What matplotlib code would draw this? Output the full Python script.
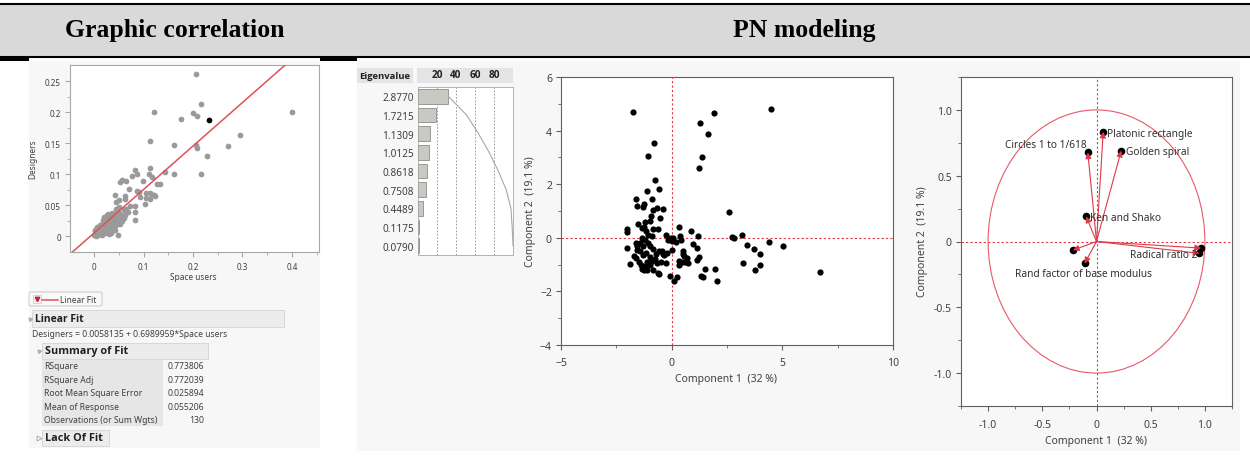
import numpy as np
import matplotlib
matplotlib.use('Agg')
import matplotlib.pyplot as plt
from matplotlib.patches import Rectangle, Circle, FancyBboxPatch

plt.rcParams['font.family'] = ['Noto Sans', 'DejaVu Sans']
BOLD = ['Open Sans', 'DejaVu Sans']

# --- left panel: designers vs space users ---
space_users = [0.207, 0.216, 0.122, 0.400, 0.200, 0.208, 0.176, 0.295, 0.112, 0.161,
               0.207, 0.208, 0.270, 0.229, 0.143, 0.162, 0.217, 0.113, 0.083, 0.086,
               0.077, 0.111, 0.116, 0.098, 0.127, 0.134, 0.057, 0.065, 0.053, 0.071,
               0.042, 0.062, 0.062, 0.050, 0.087, 0.091, 0.093, 0.105, 0.112, 0.114,
               0.122, 0.124, 0.105, 0.112, 0.102, 0.083, 0.073, 0.082, 0.065, 0.060,
               0.069, 0.063, 0.082, 0.048, 0.044, 0.051,
               0.046, 0.050, 0.055, 0.047, 0.052, 0.040, 0.043, 0.038, 0.035, 0.040,
               0.045, 0.033, 0.030, 0.028, 0.025, 0.027, 0.030, 0.032, 0.036, 0.022,
               0.020, 0.023, 0.025, 0.028, 0.018, 0.016, 0.015, 0.019, 0.021, 0.012,
               0.010, 0.009, 0.006, 0.004, 0.002, 0.000, 0.003, 0.008, 0.013, 0.016,
               0.024, 0.029, 0.034, 0.038, 0.042, 0.031, 0.026, 0.035, 0.048, 0.053,
               0.057, 0.060, 0.017, 0.011, 0.007, 0.001, 0.019, 0.037, 0.043, 0.022,
               0.014, 0.031, 0.027, 0.005, 0.044]
designers = [0.261, 0.214, 0.201, 0.201, 0.198, 0.194, 0.189, 0.163, 0.154, 0.148,
             0.147, 0.143, 0.146, 0.129, 0.104, 0.100, 0.100, 0.111, 0.107, 0.100,
             0.098, 0.100, 0.095, 0.090, 0.084, 0.084, 0.091, 0.090, 0.088, 0.077,
             0.067, 0.065, 0.060, 0.059, 0.073, 0.071, 0.063, 0.070, 0.070, 0.068,
             0.067, 0.065, 0.062, 0.060, 0.053, 0.040, 0.049, 0.049, 0.045, 0.042,
             0.040, 0.034, 0.027, 0.002, 0.055, 0.048,
             0.040, 0.038, 0.035, 0.030, 0.028, 0.035, 0.026, 0.030, 0.022, 0.020,
             0.018, 0.028, 0.033, 0.036, 0.030, 0.024, 0.020, 0.016, 0.012, 0.028,
             0.022, 0.018, 0.014, 0.010, 0.016, 0.020, 0.012, 0.009, 0.006, 0.010,
             0.014, 0.006, 0.009, 0.004, 0.008, 0.003, 0.000, 0.002, 0.004, 0.002,
             0.008, 0.004, 0.006, 0.014, 0.010, 0.025, 0.034, 0.032, 0.022, 0.020,
             0.025, 0.030, 0.026, 0.018, 0.013, 0.011, 0.031, 0.037, 0.032, 0.012,
             0.007, 0.011, 0.017, 0.016, 0.044]
selected_point = (0.233, 0.188)
fit_intercept = 0.0058135
fit_slope = 0.6989959
fit_summary = [('RSquare', '0.773806'), ('RSquare Adj', '0.772039'),
               ('Root Mean Square Error', '0.025894'), ('Mean of Response', '0.055206'),
               ('Observations (or Sum Wgts)', '130')]

# --- eigenvalues ---
eigenvalues = [2.8770, 1.7215, 1.1309, 1.0125, 0.8618, 0.7508, 0.4489, 0.1175, 0.0790]

# --- score plot ---
comp1 = [-1.76, -0.78, -1.05, -0.74, -0.56, -1.10, -1.62, -0.90, -1.55, -1.28,
         -1.23, -0.68, -0.83, -0.93, -0.39, -0.53, -1.00, -1.20, -1.25, -1.35,
         -1.50, -2.00, -2.00, -0.83, -0.63, -0.26, -0.05, 0.00, 0.08, 0.33,
         0.39, 0.87, 1.17, 2.60, 1.23, 1.35, 1.64, 1.28, 1.91, 4.50,
         2.73, 2.82, 3.18, 3.42, 3.72, 4.00, 4.41, 5.01, 3.23, 3.98,
         3.78, 6.70, 1.98, 2.07, 1.50, 1.32, 1.43, 1.25, 1.16, 0.98,
         1.13, 0.68, 0.57, 0.53, 0.45, 0.26, 0.10, -0.08, 0.02, 0.32,
         0.35, 0.60, 0.75, 0.50, 0.42, 0.20, -2.03, -1.88, -1.70, -1.60,
         -1.55, -1.55, -1.40, -1.25, -1.20, -1.12, -0.83, -0.55, -0.62, -0.27,
         -0.35, -0.22, -0.45, -0.55, -0.98, -1.05, -1.22, -1.35, -1.45, -1.30,
         -1.15, -1.00, -0.90, -0.75, -0.70, -1.28, -1.42, -1.05, -0.90, -1.15,
         -1.00, -1.35, -1.10, -0.50, -0.40, -0.15, -0.65, -1.60, -1.48, -0.85]
comp2 = [4.68, 3.52, 3.05, 2.15, 1.83, 1.73, 1.43, 1.44, 1.17, 1.15,
         1.27, 1.12, 1.02, 0.81, 1.06, 0.75, 0.62, 0.60, 0.40, 0.38,
         0.50, 0.32, 0.22, 0.32, 0.32, 0.10, 0.00, -0.12, -0.02, 0.40,
         0.05, 0.27, 0.05, 0.97, 2.62, 3.01, 3.86, 4.27, 4.66, 4.81,
         0.02, -0.02, 0.10, -0.25, -0.40, -0.60, -0.17, -0.31, -0.93, -1.00,
         -1.22, -1.27, -1.16, -1.62, -1.16, -1.41, -1.47, -0.72, -0.81, -0.22,
         -0.37, -0.75, -0.68, -0.50, -0.90, -1.47, -1.62, -1.43, -0.45, -1.00,
         -0.85, -0.90, -0.95, -0.60, -0.10, -0.15, -0.39, -0.97, -0.68, -0.75,
         -0.45, -0.30, -1.00, -1.20, -1.05, -0.90, -1.20, -1.35, -1.30, -0.95,
         -0.65, -0.55, -0.50, -0.50, -0.30, -0.20, -0.10, 0.00, -0.20, -0.30,
         -0.55, -0.70, -0.85, -0.80, -0.60, -0.65, -0.50, 0.10, 0.05, 0.25,
         -1.00, -1.15, -1.22, -0.90, -0.60, -0.10, -0.95, -0.20, -0.90, -0.40]

# --- loading plot ---
load_x = [0.062, -0.080, 0.228, -0.095, 0.965, 0.950, -0.218, -0.110]
load_y = [0.834, 0.677, 0.690, 0.190, -0.050, -0.090, -0.066, -0.167]
label_text = ['Platonic rectangle', 'Circles 1 to 1/618', 'Golden spiral',
              'Ken and Shako', 'Radical ratio 2', 'Rand factor of base modulus']
label_x = [0.100, -0.095, 0.268, -0.060, 0.935, -0.750]
label_y = [0.824, 0.735, 0.684, 0.183, -0.096, -0.243]
label_ha = ['left', 'right', 'left', 'left', 'right', 'left']

W, H = 1250, 464
RED = '#e03848'
TXT = '#404040'


def rect(x0, y0, x1, y1):
    return [x0 / W, 1 - y1 / H, (x1 - x0) / W, (y1 - y0) / H]


def style(ax, color, size, pad_x, pad_y):
    for s in ax.spines.values():
        s.set_color(color)
        s.set_linewidth(0.8)
    ax.tick_params(which='both', direction='out', color=color,
                   labelsize=size, labelcolor=TXT)
    ax.tick_params(which='major', length=3.5)
    ax.tick_params(which='minor', length=2.2)
    ax.tick_params(axis='x', which='major', pad=pad_x)
    ax.tick_params(axis='y', which='major', pad=pad_y)


fig = plt.figure(figsize=(12.5, 4.64), dpi=100)
fig.patch.set_facecolor('white')

bg = fig.add_axes([0, 0, 1, 1], zorder=-1)
bg.set_xlim(0, W)
bg.set_ylim(H, 0)
bg.axis('off')

# header band
bg.add_patch(Rectangle((0, 6), W, 51, fc='#d9d9d9', ec='none'))
bg.plot([0, W], [5, 5], color='black', lw=1.5)
bg.plot([0, W], [58, 58], color='black', lw=1.5)
bg.add_patch(Rectangle((0, 58), 29, 4, fc='black', ec='none'))
bg.add_patch(Rectangle((320, 58), 37, 4, fc='black', ec='none'))
bg.text(175, 30, 'Graphic correlation', family='Liberation Serif', weight='bold',
        fontsize=18.5, ha='center', va='center')
bg.text(804, 30, 'PN modeling', family='Liberation Serif', weight='bold',
        fontsize=18.5, ha='center', va='center')

# panel backgrounds
bg.add_patch(Rectangle((29, 62), 291, 387, fc='#f7f7f7', ec='none'))
bg.add_patch(Rectangle((357, 62), 883, 390, fc='#f7f7f7', ec='none'))

# ---------- left scatter ----------
ax1 = fig.add_axes(rect(70, 66, 319, 253))
ax1.set_facecolor('white')
ax1.scatter(space_users, designers, s=17, color='#9a9a9a', linewidths=0, zorder=2)
ax1.scatter([selected_point[0]], [selected_point[1]], s=17, color='black',
            linewidths=0, zorder=3)
fx = np.array([-0.06, 0.47])
ax1.plot(fx, fit_intercept + fit_slope * fx, color='#e05058', lw=1.1, zorder=4)
ax1.set_xlim(-0.049, 0.455)
ax1.set_ylim(-0.025, 0.276)
ax1.set_xticks([0, 0.1, 0.2, 0.3, 0.4])
ax1.set_xticklabels(['0', '0.1', '0.2', '0.3', '0.4'])
ax1.set_xticks([0.05, 0.15, 0.25, 0.35, 0.45], minor=True)
ax1.set_yticks([0, 0.05, 0.1, 0.15, 0.2, 0.25])
ax1.set_yticklabels(['0', '0.05', '0.1', '0.15', '0.2', '0.25'])
ax1.set_yticks([0.025, 0.075, 0.125, 0.175, 0.225], minor=True)
style(ax1, '#a8a8a8', 5.8, 3.5, 3)
bg.text(33, 159, 'Designers', rotation=90, fontsize=6, color=TXT,
        ha='center', va='center')
bg.text(193, 278, 'Space users', fontsize=6, color=TXT, ha='center', va='center')

# legend button and fit report
bg.add_patch(FancyBboxPatch((29, 293), 73, 14, boxstyle='round,pad=0,rounding_size=2',
                            fc='#f9f9f9', ec='#c0c0c0', lw=0.6))
bg.add_patch(Rectangle((32.5, 296), 8, 8, fc='#f4f4f4', ec='#c8c8c8', lw=0.5))
bg.plot([36.5], [300], marker='v', color='#d02030', markersize=3.2)
bg.plot([42, 58], [300.5, 300.5], color='#e05058', lw=1.1)
bg.text(60, 300.5, 'Linear Fit', fontsize=6, color=TXT, va='center')

bg.add_patch(Rectangle((32, 311), 252, 17, fc='#ececec', ec='#d4d4d4', lw=0.6))
bg.plot([29.5], [319.5], marker=(3, 0, 45), color='#b0b0b0', markersize=3)
bg.text(35, 319.5, 'Linear Fit', family=BOLD, fontsize=7.5, weight='bold',
        color='#202020', va='center')
bg.text(32, 335, 'Designers = %.7f + %.7f*Space users' % (fit_intercept, fit_slope),
        fontsize=6.2, color=TXT, va='center')

bg.add_patch(Rectangle((42, 344), 166, 16, fc='#ececec', ec='#d4d4d4', lw=0.6))
bg.plot([38.5], [352], marker=(3, 0, 45), color='#b0b0b0', markersize=3)
bg.text(45, 351.5, 'Summary of Fit', family=BOLD, fontsize=7.8, weight='bold',
        color='#202020', va='center')

bg.add_patch(Rectangle((42, 361), 121, 66, fc='#e6e6e6', ec='none'))
for i, (name, val) in enumerate(fit_summary):
    yy = 367 + i * 13.4
    bg.text(44, yy, name, fontsize=6.2, color=TXT, va='center')
    bg.text(204, yy, val, fontsize=6.2, color=TXT, va='center', ha='right')

bg.add_patch(Rectangle((42, 431), 67, 16, fc='#ececec', ec='#d4d4d4', lw=0.6))
bg.plot([38.5], [438.5], marker='>', mfc='none', mec='#a0a0a0', markersize=3.5, mew=0.6)
bg.text(45, 438.5, 'Lack Of Fit', family=BOLD, fontsize=7.8, weight='bold',
        color='#202020', va='center')

# ---------- eigenvalue bars ----------
eig = np.array(eigenvalues)
pct = eig / eig.sum() * 100
cum = np.cumsum(pct)
rows = np.arange(len(eig))

bg.add_patch(Rectangle((357, 69), 56, 15, fc='#e4e4e4', ec='none'))
bg.add_patch(Rectangle((417, 69), 96, 15, fc='#e4e4e4', ec='none'))
bg.text(359, 76.5, 'Eigenvalue', family=BOLD, fontsize=6.8, weight='bold',
        color='#202020', va='center')

ax2 = fig.add_axes(rect(418, 88, 513, 256))
ax2.set_facecolor('white')
ax2.barh(rows, pct, height=0.8, color='#c9c9c3', edgecolor='#8c8c8c', lw=0.6, zorder=2)
ax2.plot(cum, rows, color='#a8a8a8', lw=0.8, zorder=3)
ax2.set_xlim(0, 100)
ax2.set_ylim(8.5, -0.5)
ax2.xaxis.tick_top()
ax2.set_xticks([20, 40, 60, 80])
ax2.set_yticks(rows)
ax2.set_yticklabels(['%.4f' % e for e in eigenvalues])
ax2.grid(axis='x', linestyle=(0, (2, 2)), color='#8a8a8a', lw=0.6, zorder=1)
for s in ax2.spines.values():
    s.set_color('#a8a8a8')
    s.set_linewidth(0.6)
ax2.tick_params(axis='x', length=0, pad=5.2, labelsize=7.2, labelcolor='#202020')
ax2.tick_params(axis='y', length=0, pad=3, labelsize=7.2, labelcolor=TXT)
for lab in ax2.get_xticklabels():
    lab.set_fontweight('bold')
    lab.set_family(BOLD)

# ---------- score plot ----------
ax3 = fig.add_axes(rect(561, 78, 893, 346))
ax3.set_facecolor('white')
ax3.axhline(0, color=RED, lw=0.8, linestyle=(0, (2, 2)), zorder=1)
ax3.axvline(0, color=RED, lw=0.8, linestyle=(0, (2, 2)), zorder=1)
ax3.scatter(comp1, comp2, s=20, color='black', linewidths=0, zorder=2)
ax3.set_xlim(-5, 10)
ax3.set_ylim(-4, 6)
ax3.set_xticks([-5, 0, 5, 10])
ax3.set_xticks([-2.5, 2.5, 7.5], minor=True)
ax3.set_yticks([-4, -2, 0, 2, 4, 6])
ax3.set_yticks([-3, -1, 1, 3, 5], minor=True)
style(ax3, '#606060', 7.5, 5.5, 3)
bg.text(726, 380, 'Component 1  (32 %)', fontsize=7.5, color=TXT, ha='center', va='center')
bg.text(530, 212, 'Component 2  (19.1 %)', fontsize=7.5, color=TXT, rotation=90,
        ha='center', va='center')

# ---------- loading plot ----------
ax4 = fig.add_axes(rect(961, 78, 1232, 407))
ax4.set_facecolor('white')
ax4.axhline(0, color=RED, lw=0.8, linestyle=(0, (2, 2)), zorder=1)
ax4.axvline(0, color=RED, lw=0.8, linestyle=(0, (2, 2)), zorder=1)
ax4.add_patch(Circle((0, 0), 1, fill=False, ec='#e85868', lw=0.8, zorder=2))
ax4.scatter(load_x, load_y, s=30, color='black', linewidths=0, zorder=3)
for lx, ly in zip(load_x, load_y):
    ax4.annotate('', xy=(lx, ly), xytext=(0, 0), zorder=4,
                 arrowprops=dict(arrowstyle='-|>', color=RED, lw=0.8,
                                 mutation_scale=9, shrinkA=0, shrinkB=0))
for t, tx, ty, ha in zip(label_text, label_x, label_y, label_ha):
    ax4.text(tx, ty, t, fontsize=7.3, color='#303030', ha=ha, va='center', zorder=5)
ax4.set_xlim(-1.25, 1.25)
ax4.set_ylim(-1.25, 1.25)
ax4.set_xticks([-1, -0.5, 0, 0.5, 1])
ax4.set_xticklabels(['-1.0', '-0.5', '0', '0.5', '1.0'])
ax4.set_xticks([-1.25, -0.75, -0.25, 0.25, 0.75, 1.25], minor=True)
ax4.set_yticks([-1, -0.5, 0, 0.5, 1])
ax4.set_yticklabels(['-1.0', '-0.5', '0', '0.5', '1.0'])
ax4.set_yticks([-1.25, -0.75, -0.25, 0.25, 0.75, 1.25], minor=True)
style(ax4, '#606060', 7.5, 5.5, 3)
bg.text(1096, 442, 'Component 1  (32 %)', fontsize=7.5, color=TXT, ha='center', va='center')
bg.text(922, 242, 'Component 2  (19.1 %)', fontsize=7.5, color=TXT, rotation=90,
        ha='center', va='center')

fig.savefig('out.png', dpi=100)
